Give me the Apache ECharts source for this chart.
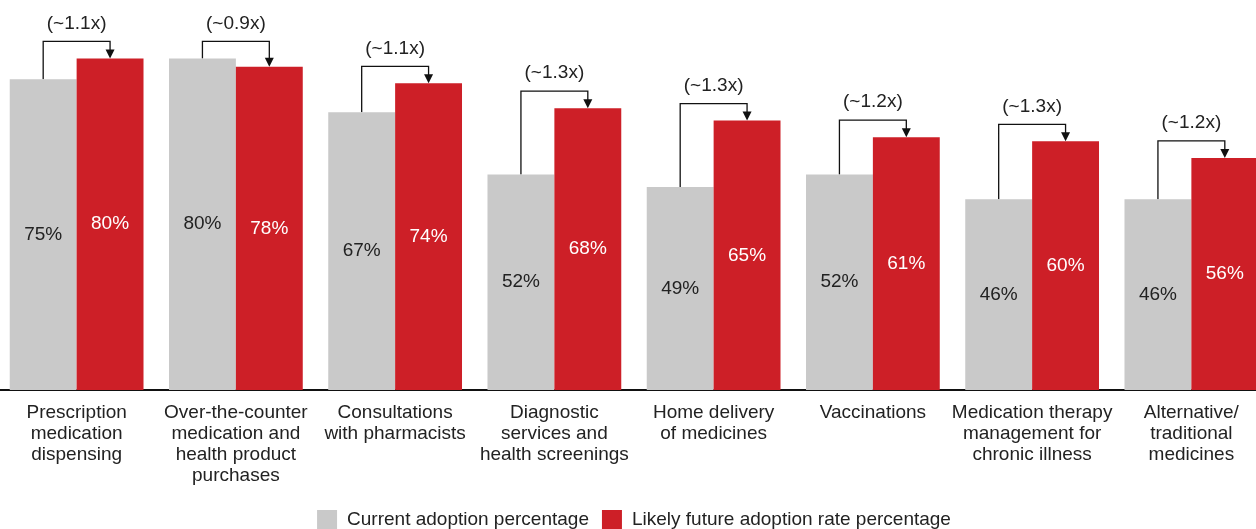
<!DOCTYPE html>
<html>
<head>
<meta charset="utf-8">
<script src="https://cdn.jsdelivr.net/npm/echarts@6/dist/echarts.min.js"></script>
<style>
  html, body { margin: 0; padding: 0; background: #fff; overflow: hidden; }
  /* plot is a little wider than the page, like the original crop */
  #chart { width: 1274px; height: 529px; margin-left: -3px; }
</style>
</head>
<body>
<div id="chart"></div>
<script>
// categories (manually wrapped like the original)
const categories = [
  'Prescription\nmedication\ndispensing',
  'Over-the-counter\nmedication and\nhealth product\npurchases',
  'Consultations\nwith pharmacists',
  'Diagnostic\nservices and\nhealth screenings',
  'Home delivery\nof medicines',
  'Vaccinations',
  'Medication therapy\nmanagement for\nchronic illness',
  'Alternative/\ntraditional\nmedicines'
];
const currentAdoption = [75, 80, 67, 52, 49, 52, 46, 46];
const futureAdoption = [80, 78, 74, 68, 65, 61, 60, 56];
const ratioLabels = ['(~1.1x)', '(~0.9x)', '(~1.1x)', '(~1.3x)', '(~1.3x)', '(~1.2x)', '(~1.3x)', '(~1.2x)'];

const FONT = "'Liberation Sans', Arial, sans-serif";
const FS = 19;
const GRAY = '#c9c9c9';
const RED = '#cd1f27';

const chart = echarts.init(document.getElementById('chart'));

// bracket + arrow between the two bars of a group
function renderBracket(params, api) {
  const idx = api.value(0);
  const band = api.size([1, 0])[0];
  const c = api.coord([idx, api.value(1)]);
  const f = api.coord([idx, api.value(2)]);
  const gx = c[0] - band * 0.21;
  const rx = c[0] + band * 0.21;
  const top = Math.min(c[1], f[1]) - 17;
  const arrowH = 8;
  return {
    type: 'group',
    children: [
      {
        type: 'polyline',
        shape: { points: [[gx, c[1]], [gx, top], [rx, top], [rx, f[1] - arrowH]] },
        style: { stroke: '#111', lineWidth: 1.3, fill: null }
      },
      {
        type: 'polygon',
        shape: { points: [[rx - 4.5, f[1] - arrowH - 1], [rx + 4.5, f[1] - arrowH - 1], [rx, f[1]]] },
        style: { fill: '#111' }
      },
      {
        type: 'text',
        style: {
          text: ratioLabels[params.dataIndex],
          x: c[0], y: top - 18,
          align: 'center', verticalAlign: 'middle',
          font: FS + 'px ' + FONT, fill: '#222'
        }
      }
    ]
  };
}

chart.setOption({
  animation: false,
  textStyle: { fontFamily: FONT },
  grid: { left: 0, right: 0, top: 17, height: 373 },
  legend: {
    top: 505,
    left: 'center',
    itemWidth: 20,
    itemHeight: 19,
    itemGap: 13,
    icon: 'rect',
    textStyle: { fontSize: FS, color: '#222', fontFamily: FONT, padding: [0, 0, 0, 5] },
    data: ['Current adoption percentage', 'Likely future adoption rate percentage']
  },
  xAxis: {
    type: 'category',
    data: categories,
    axisTick: { show: false },
    axisLine: { lineStyle: { color: '#111', width: 2 } },
    axisLabel: {
      margin: 12,
      fontSize: FS,
      lineHeight: 21,
      color: '#222',
      interval: 0,
      fontFamily: FONT
    }
  },
  yAxis: {
    type: 'value',
    min: 0,
    max: 90,
    show: false,
    splitLine: { show: false }
  },
  series: [
    {
      name: 'Current adoption percentage',
      type: 'bar',
      data: currentAdoption,
      barGap: '0%',
      barCategoryGap: '16%',
      itemStyle: { color: GRAY },
      label: {
        show: true,
        position: 'inside',
        formatter: '{c}%',
        fontSize: FS,
        color: '#222',
        fontFamily: FONT
      }
    },
    {
      name: 'Likely future adoption rate percentage',
      type: 'bar',
      data: futureAdoption,
      barGap: '0%',
      barCategoryGap: '16%',
      itemStyle: { color: RED },
      label: {
        show: true,
        position: 'inside',
        formatter: '{c}%',
        fontSize: FS,
        color: '#fff',
        fontFamily: FONT
      }
    },
    {
      type: 'custom',
      clip: false,
      silent: true,
      renderItem: renderBracket,
      encode: { x: 0, y: [1, 2] },
      data: categories.map((_, i) => [i, currentAdoption[i], futureAdoption[i]])
    }
  ]
});
</script>
</body>
</html>
